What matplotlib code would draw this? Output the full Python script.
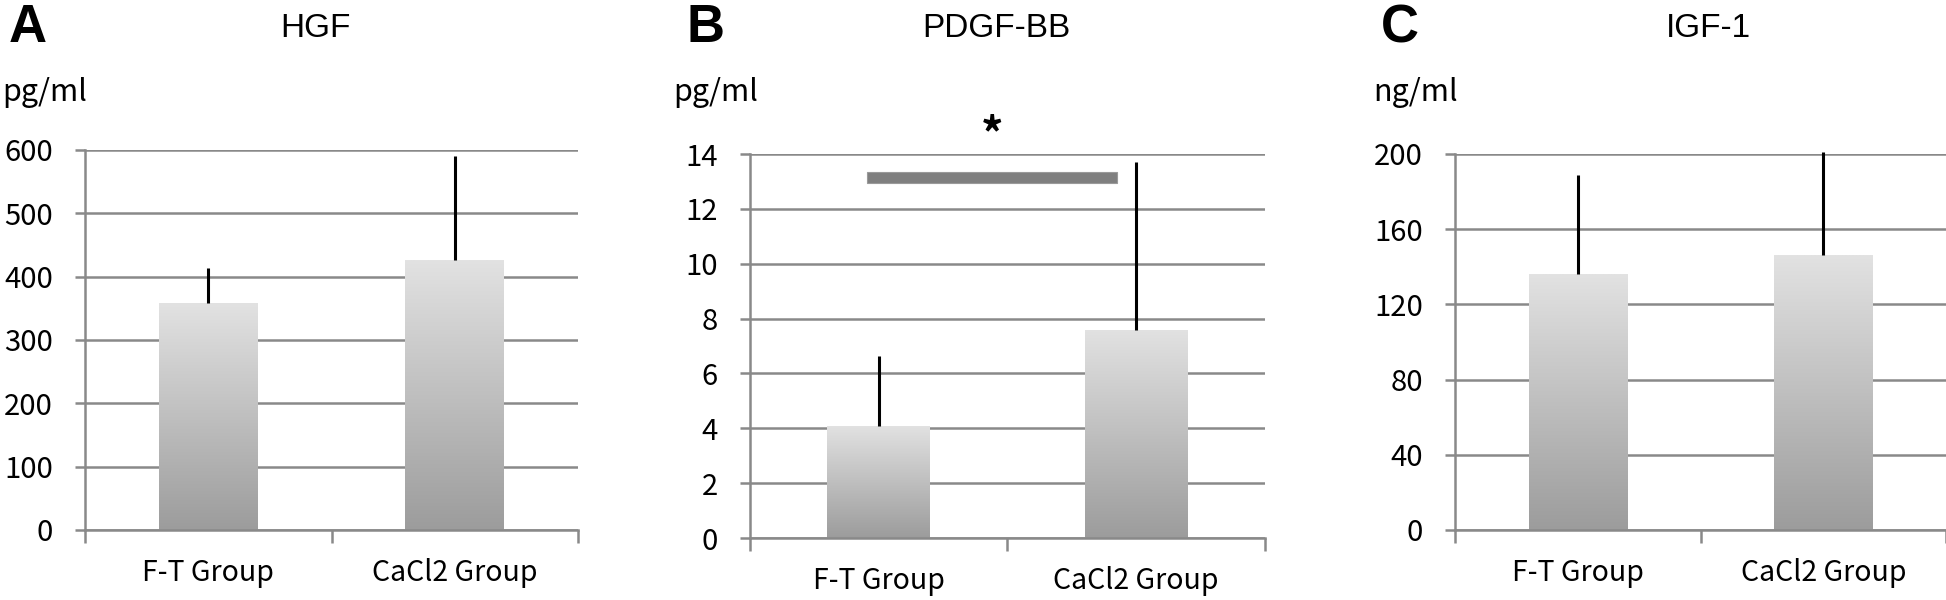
import numpy as np
import matplotlib
matplotlib.use("Agg")
import matplotlib.pyplot as plt
from matplotlib.colors import LinearSegmentedColormap
from matplotlib.patches import Rectangle

categories = ["F-T Group", "CaCl2 Group"]

hgf_mean = [358, 426]
hgf_err = [56, 164]

pdgf_mean = [4.1, 7.6]
pdgf_err = [2.55, 6.1]

igf_mean = [136, 146]
igf_err = [53, 55]

panels = [
    # letter, title, unit, means, errs, ylim top, tick step
    ("A", "HGF", "pg/ml", hgf_mean, hgf_err, 600, 100),
    ("B", "PDGF-BB", "pg/ml", pdgf_mean, pdgf_err, 14, 2),
    ("C", "IGF-1", "ng/ml", igf_mean, igf_err, 200, 40),
]

# layout per panel: axes rect, title x, letter x, unit x (figure fractions)
layout = {
    "A": ([0.0437, 0.1167, 0.2533, 0.6333], 0.1619, 0.0144, 0.001),
    "B": ([0.3854, 0.1033, 0.2646, 0.6400], 0.5118, 0.3623, 0.3458),
    "C": ([0.7477, 0.1167, 0.2523, 0.6267], 0.8777, 0.7194, 0.7055),
}

# significance bracket in panel B
sig_span = [-0.044, 0.927]
sig_level = 13.15
sig_label = "*"

GRID = "#898989"
TICK_FONT = ["Noto Sans CJK KR", "DejaVu Sans"]
TITLE_FONT = ["Liberation Sans", "DejaVu Sans"]

bar_cmap = LinearSegmentedColormap.from_list("bargrad", ["#9c9c9c", "#e2e2e2"])
gradient = np.linspace(0, 1, 256).reshape(-1, 1)

fig = plt.figure(figsize=(19.46, 6.0), dpi=100)

for letter, title, unit, means, errs, top, step in panels:
    rect, title_x, letter_x, unit_x = layout[letter]
    ax = fig.add_axes(rect)
    ax.set_xlim(-0.5, 1.5)
    ax.set_ylim(0, top)
    x = np.arange(len(categories))
    width = 0.40

    for xi, m in zip(x, means):
        r = Rectangle((xi - width / 2, 0), width, m, facecolor="none", edgecolor="none", zorder=3)
        ax.add_patch(r)
        im = ax.imshow(gradient, cmap=bar_cmap, origin="lower", aspect="auto",
                       extent=[xi - width / 2, xi + width / 2, 0, m], zorder=3,
                       interpolation="bilinear")
        im.set_clip_path(r)

    ax.errorbar(x, means, yerr=[np.zeros(len(means)), errs], fmt="none",
                ecolor="black", elinewidth=2.2, capsize=0, zorder=4, clip_on=False)

    ax.set_yticks(np.arange(0, top + step / 2, step))
    ax.yaxis.grid(True, color=GRID, linewidth=1.8, zorder=1)
    ax.set_axisbelow(True)
    ax.tick_params(axis="y", length=7.2, width=1.8, color=GRID, pad=16)
    for lab in ax.get_yticklabels():
        lab.set_family(TICK_FONT)
        lab.set_fontsize(21)

    ax.set_xticks([-0.5, 0.5, 1.5])
    ax.set_xticklabels([])
    ax.set_xticks(x, minor=True)
    ax.set_xticklabels(categories, minor=True, family=TICK_FONT, fontsize=20.5)
    ax.tick_params(axis="x", which="major", length=9, width=1.8, color=GRID, direction="out")
    ax.tick_params(axis="x", which="minor", length=0, pad=20)

    for side in ["top", "right"]:
        ax.spines[side].set_visible(False)
    ax.spines["left"].set_color(GRID)
    ax.spines["left"].set_linewidth(1.8)
    ax.spines["bottom"].set_color(GRID)
    ax.spines["bottom"].set_linewidth(1.8)
    ax.spines["bottom"].set_zorder(5)

    fig.text(title_x, 0.953, title, ha="center", va="center",
             family=TITLE_FONT, fontsize=24)
    fig.text(letter_x, 0.953, letter, ha="center", va="center",
             family=TITLE_FONT, fontsize=38, fontweight="bold")
    fig.text(unit_x, 0.845, unit, ha="left", va="center",
             family=TICK_FONT, fontsize=22)

    if letter == "B":
        ax.add_patch(Rectangle((sig_span[0], sig_level - 0.2), sig_span[1] - sig_span[0], 0.4,
                               facecolor="#7f7f7f", edgecolor="#9a9a9a", linewidth=0.8,
                               zorder=4, clip_on=False))
        ax.text((sig_span[0] + sig_span[1]) / 2, 14.65, sig_label, ha="center", va="center",
                family=TICK_FONT, fontsize=32, fontweight="bold", clip_on=False)

fig.savefig("out.png", dpi=100)
